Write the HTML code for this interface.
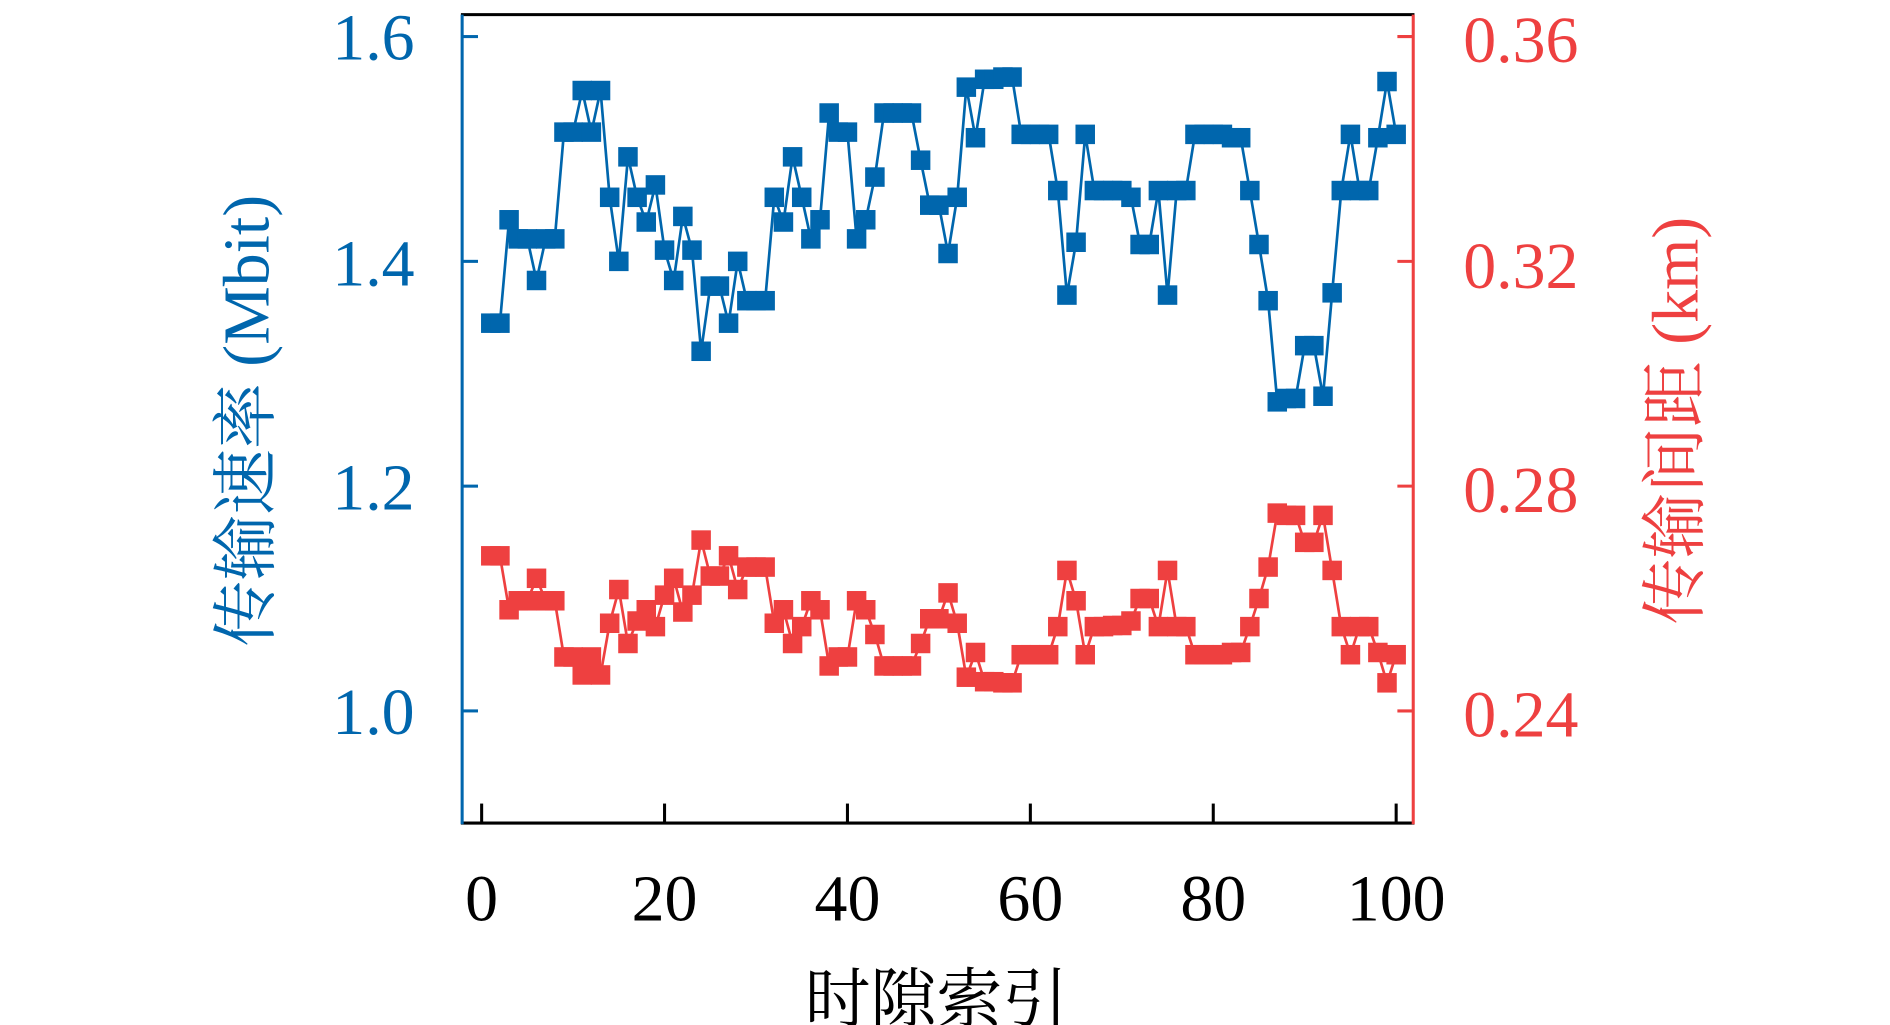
<!DOCTYPE html>
<html><head><meta charset="utf-8"><style>
html,body{margin:0;padding:0;background:#fff;}
svg{display:block;}
text{font-family:"Liberation Serif","Noto Serif CJK SC",serif;}
</style></head><body>
<svg id="s" width="1890" height="1025" viewBox="0 0 1550 840.6" preserveAspectRatio="none">
<line x1="378" y1="12" x2="1160" y2="12" stroke="#000" stroke-width="2.5"/>
<line x1="378" y1="675" x2="1160" y2="675" stroke="#000" stroke-width="2.5"/>
<line x1="379" y1="12" x2="379" y2="676" stroke="#0066ad" stroke-width="2.5"/>
<line x1="1159" y1="12" x2="1159" y2="676" stroke="#ee4040" stroke-width="2.5"/>
<g id="g"></g>
<g font-size="54" fill="#0066ad" text-anchor="end">
<text x="340" y="49">1.6</text><text x="340" y="234">1.4</text><text x="340" y="418">1.2</text><text x="340" y="602">1.0</text>
</g>
<g font-size="54" fill="#ee4040" text-anchor="start">
<text x="1200" y="51">0.36</text><text x="1200" y="236">0.32</text><text x="1200" y="420">0.28</text><text x="1200" y="604">0.24</text>
</g>
<g font-size="54" fill="#000" text-anchor="middle">
<text x="395" y="755">0</text><text x="545" y="755">20</text><text x="695" y="755">40</text><text x="845" y="755">60</text><text x="995" y="755">80</text><text x="1145" y="755">100</text>
</g>
<text x="768" y="838" font-size="54" text-anchor="middle" fill="#000">时隙索引</text>
<text transform="translate(220,345) rotate(-90)" font-size="54" text-anchor="middle" fill="#0066ad">传输速率 (Mbit)</text>
<text transform="translate(1392,345) rotate(-90)" font-size="54" text-anchor="middle" fill="#ee4040">传输间距 (km)</text>
</svg>
<script>
var B=[1.345,1.345,1.437,1.42,1.42,1.383,1.42,1.42,1.515,1.515,1.552,1.515,1.552,1.457,1.40,1.493,1.457,1.435,1.468,1.41,1.383,1.44,1.41,1.32,1.378,1.378,1.345,1.40,1.365,1.365,1.365,1.457,1.435,1.493,1.457,1.42,1.437,1.532,1.515,1.515,1.42,1.437,1.475,1.532,1.532,1.532,1.532,1.49,1.45,1.45,1.407,1.457,1.555,1.51,1.562,1.562,1.564,1.564,1.513,1.513,1.513,1.513,1.463,1.37,1.417,1.513,1.463,1.463,1.463,1.463,1.457,1.415,1.415,1.463,1.37,1.463,1.463,1.513,1.513,1.513,1.513,1.51,1.51,1.463,1.415,1.365,1.275,1.278,1.278,1.325,1.325,1.28,1.372,1.463,1.513,1.463,1.463,1.51,1.56,1.513];
var R=[1.138,1.138,1.09,1.098,1.098,1.118,1.098,1.098,1.048,1.048,1.032,1.048,1.032,1.078,1.108,1.06,1.08,1.09,1.075,1.103,1.118,1.088,1.103,1.152,1.12,1.12,1.138,1.108,1.128,1.128,1.128,1.078,1.09,1.06,1.075,1.098,1.09,1.04,1.048,1.048,1.098,1.09,1.068,1.04,1.04,1.04,1.04,1.06,1.082,1.082,1.105,1.078,1.03,1.052,1.026,1.026,1.025,1.025,1.05,1.05,1.05,1.05,1.075,1.125,1.098,1.05,1.075,1.075,1.076,1.076,1.08,1.1,1.1,1.075,1.125,1.075,1.075,1.05,1.05,1.05,1.05,1.052,1.052,1.075,1.1,1.128,1.176,1.174,1.174,1.15,1.15,1.174,1.125,1.075,1.05,1.075,1.075,1.052,1.025,1.05];
var h='';
function X(i){return 395+7.5*(i+1);}
function Y(v){return 30+(1.6-v)*921.7;}
[0,20,40,60,80,100].forEach(function(t){var x=395+7.5*t;h+='<line x1="'+x+'" y1="675" x2="'+x+'" y2="659" stroke="#000" stroke-width="2.5"/>';});
[1.6,1.4,1.2,1.0].forEach(function(v){var y=Y(v);h+='<line x1="379" y1="'+y+'" x2="392" y2="'+y+'" stroke="#0066ad" stroke-width="2.5"/>';h+='<line x1="1146" y1="'+y+'" x2="1159" y2="'+y+'" stroke="#ee4040" stroke-width="2.5"/>';});
function ser(d,c){var p=d.map(function(v,i){return X(i)+','+Y(v);}).join(' ');
h+='<polyline points="'+p+'" fill="none" stroke="'+c+'" stroke-width="2.2"/>';
d.forEach(function(v,i){h+='<rect x="'+(X(i)-8)+'" y="'+(Y(v)-8)+'" width="16" height="16" fill="'+c+'"/>';});}
ser(B,'#0066ad');ser(R,'#ee4040');
document.getElementById('g').innerHTML=h;
</script>
</body></html>
